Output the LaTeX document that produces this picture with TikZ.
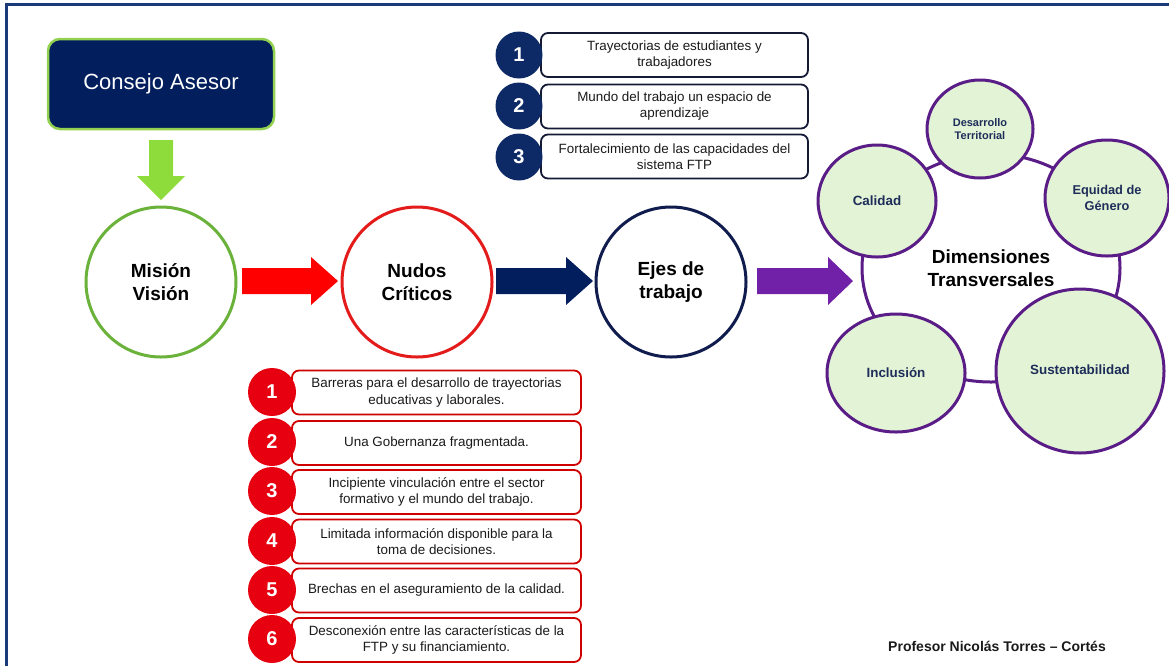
\documentclass[tikz,border=0pt]{standalone}
\usepackage{fontspec}
\setmainfont{Liberation Sans}
\usetikzlibrary{shapes.geometric}
\definecolor{framec}{HTML}{1B3A7A}
\definecolor{navy}{HTML}{021E5C}
\definecolor{cgreen}{HTML}{92D050}
\definecolor{agreen}{HTML}{8EDC3C}
\definecolor{mgreen}{HTML}{6AB23A}
\definecolor{cred}{HTML}{E31B1B}
\definecolor{nred}{HTML}{E60010}
\definecolor{bred}{HTML}{D00000}
\definecolor{enavy}{HTML}{0F1C4D}
\definecolor{numnavy}{HTML}{0E2A66}
\definecolor{boxnavy}{HTML}{141A36}
\definecolor{apurple}{HTML}{7121A8}
\definecolor{dpurple}{HTML}{5A1C86}
\definecolor{dfill}{HTML}{E3F4D6}
\definecolor{dtext}{HTML}{1F2D5A}
\definecolor{tgray}{HTML}{1A1A1A}
\newcommand{\blockarrowh}[4]{%
  \fill[#4] (#1,268) -- (#2,268) -- (#2,257) -- (#3,281) -- (#2,305) -- (#2,294) -- (#1,294) -- cycle;}
\begin{document}
\begin{tikzpicture}[x=1pt,y=-1pt,
  consejo/.style={draw=cgreen, line width=2.5, fill=navy, rounded corners=12,
    minimum width=226, minimum height=90, inner sep=0, text=white,
    font=\fontsize{22}{26}\selectfont},
  bigc/.style={circle, minimum size=150, inner sep=0, line width=3, fill=white,
    align=center, font=\bfseries\fontsize{19}{23}\selectfont, text=black},
  ejebox/.style={draw=boxnavy, line width=1.8, rounded corners=7, fill=white,
    minimum width=267, minimum height=44, inner sep=0, align=center, text=tgray,
    font=\fontsize{13.4}{16}\selectfont},
  ejenum/.style={circle, fill=numnavy, minimum size=47, inner sep=0, text=white,
    font=\bfseries\fontsize{20}{20}\selectfont},
  nudobox/.style={draw=bred, line width=1.8, rounded corners=7, fill=white,
    minimum width=289, minimum height=44, inner sep=0, align=center, text=tgray,
    font=\fontsize{13.4}{16.5}\selectfont},
  nudonum/.style={circle, fill=nred, minimum size=48, inner sep=0, text=white,
    font=\bfseries\fontsize{20}{20}\selectfont},
  dimc/.style={ellipse, draw=dpurple, line width=3, fill=dfill, inner sep=0,
    align=center, text=dtext, font=\bfseries\fontsize{13.4}{16}\selectfont},
]
\useasboundingbox (0,0) rectangle (1169,665);
% frame
\draw[framec, line width=3] (6.5,4.5) rectangle (1200,700);

% Consejo Asesor
\node[consejo] (consejo) at (161,84) {Consejo Asesor};
% main circles
\node[bigc, draw=mgreen] (mision) at (161,282) {Misión\\Visión};
\node[bigc, draw=cred] (nudos) at (417,282) {Nudos\\Críticos};
\node[bigc, draw=enavy] (ejes) at (671,282) {Ejes de\\trabajo};

% green down arrow
\fill[agreen] (149,140) -- (173,140) -- (173,176) -- (185,176) -- (161,200) -- (137,176) -- (149,176) -- cycle;
% horizontal block arrows
\blockarrowh{242}{311}{338}{red}
\blockarrowh{496}{566}{593}{navy}
\blockarrowh{757}{828}{853}{apurple}

% Dimensiones transversales
\node[ellipse, draw=dpurple, line width=3, minimum width=258, minimum height=228, inner sep=0,
  align=center, font=\bfseries\fontsize{19}{23}\selectfont] (dim) at (991,268) {Dimensiones\\Transversales};
\node[dimc, minimum width=106, minimum height=98, font=\bfseries\fontsize{11}{13}\selectfont] (dt) at (980,129) {Desarrollo\\Territorial};
\node[dimc, minimum width=118, minimum height=112] (cal) at (877,201) {Calidad};
\node[dimc, minimum width=124, minimum height=116, font=\bfseries\fontsize{12.8}{15.5}\selectfont] (eq) at (1107,198) {Equidad de\\Género};
\node[dimc, minimum width=138, minimum height=118] (inc) at (896,373) {Inclusión};
\node[dimc, minimum width=168, minimum height=164] (sus) at (1080,371) {\raisebox{3pt}{Sustentabilidad}};

% Ejes list
\node[ejebox] (e1) at (674.5,55) {Trayectorias de estudiantes y\\trabajadores};
\node[ejebox] (e2) at (674.5,106.5) {Mundo del trabajo un espacio de\\aprendizaje};
\node[ejebox] (e3) at (674.5,156.5) {Fortalecimiento de las capacidades del\\sistema FTP};
\node[ejenum] (n1) at (519,55) {1};
\node[ejenum] (n2) at (519,106) {2};
\node[ejenum] (n3) at (519,157) {3};

% Nudos list
\node[nudobox] (b1) at (436.5,392.5) {Barreras para el desarrollo de trayectorias\\educativas y laborales.};
\node[nudobox] (b2) at (436.5,443) {Una Gobernanza fragmentada.};
\node[nudobox] (b3) at (436.5,492) {Incipiente vinculación entre el sector\\formativo y el mundo del trabajo.};
\node[nudobox] (b4) at (436.5,541.5) {Limitada información disponible para la\\toma de decisiones.};
\node[nudobox] (b5) at (436.5,590.5) {Brechas en el aseguramiento de la calidad.};
\node[nudobox] (b6) at (436.5,640) {Desconexión entre las características de la\\FTP y su financiamiento.};
\node[nudonum] (r1) at (272,392) {1};
\node[nudonum] (r2) at (272,442) {2};
\node[nudonum] (r3) at (272,491) {3};
\node[nudonum] (r4) at (272,541) {4};
\node[nudonum] (r5) at (272,590) {5};
\node[nudonum] (r6) at (272,639) {6};

% author
\node[font=\bfseries\fontsize{14}{16}\selectfont, text=tgray] (author) at (997,646) {Profesor Nicolás Torres – Cortés};
\end{tikzpicture}
\end{document}
